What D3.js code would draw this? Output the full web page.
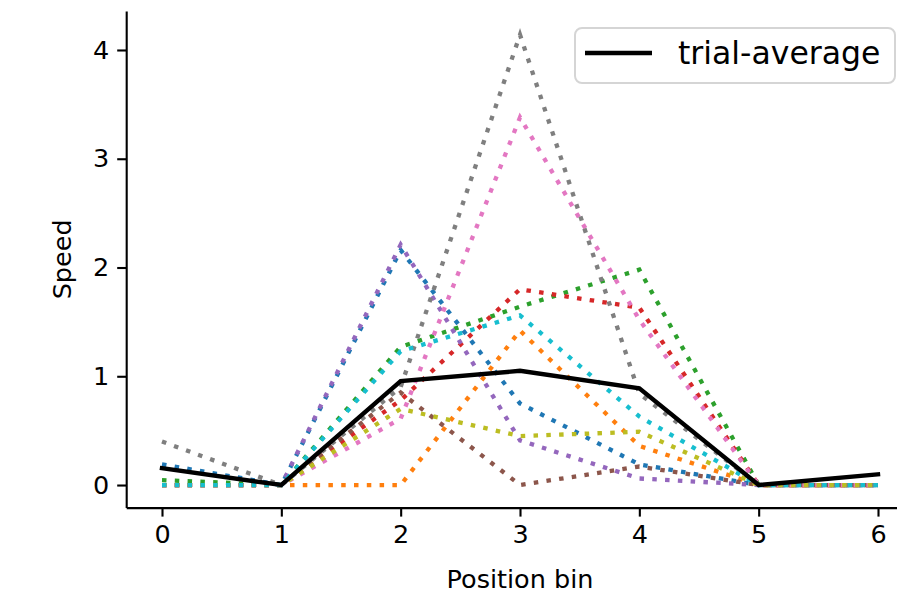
<!DOCTYPE html>
<html>
<head>
<meta charset="utf-8">
<script src="https://cdn.jsdelivr.net/npm/d3@7/dist/d3.min.js"></script>
<style>
  html, body { margin: 0; padding: 0; background: #fff; }
  svg { display: block; }
  text { font-family: "DejaVu Sans", sans-serif; fill: #000; }
</style>
</head>
<body>
<svg id="chart" width="897" height="598"></svg>
<script>
// ---- data ----
const positionBins = [0, 1, 2, 3, 4, 5, 6];
const xTicks = [0, 1, 2, 3, 4, 5, 6];
const yTicks = [0, 1, 2, 3, 4];
const trialColors = ["#1f77b4", "#ff7f0e", "#2ca02c", "#d62728", "#9467bd",
                     "#8c564b", "#e377c2", "#7f7f7f", "#bcbd22", "#17becf"];
const trial0 = [0.19, 0, 2.16, 0.75, 0.19, 0, 0];
const trial1 = [0, 0, 0, 1.42, 0.36, 0, 0];
const trial2 = [0.045, 0, 1.27, 1.64, 1.98, 0, 0];
const trial3 = [0, 0, 0.78, 1.80, 1.63, 0, 0];
const trial4 = [0, 0, 2.21, 0.41, 0.06, 0, 0];
const trial5 = [0, 0, 0.85, 0, 0.17, 0, 0];
const trial6 = [0, 0, 0.61, 3.38, 1.52, 0, 0];
const trial7 = [0.40, 0, 0.90, 4.14, 0.84, 0, 0];
const trial8 = [0, 0, 0.70, 0.45, 0.49, 0, 0];
const trial9 = [0, 0, 1.23, 1.56, 0.63, 0, 0];
const trials = [trial0, trial1, trial2, trial3, trial4, trial5, trial6, trial7, trial8, trial9];
const trialAverage = [0.155, 0, 0.955, 1.05, 0.89, 0, 0.098];
const legendLabel = "trial-average";
const xLabel = "Position bin";
const yLabel = "Speed";

// ---- layout ----
const svg = d3.select("#chart");
const x = d3.scaleLinear().domain([-0.3, 6.3]).range([126.2, 913.8]);
const y = d3.scaleLinear().domain([-0.2075, 4.3575]).range([507.6, 11.1]);

const line = d3.line().x((d, i) => x(positionBins[i])).y(d => y(d));

const plot = svg.append("g");

trials.forEach((t, k) => {
  plot.append("path")
    .datum(t)
    .attr("d", line)
    .attr("fill", "none")
    .attr("stroke", trialColors[k])
    .attr("stroke-width", 4.3)
    .attr("stroke-dasharray", "4.5,8.3");
});

plot.append("path")
  .datum(trialAverage)
  .attr("d", line)
  .attr("fill", "none")
  .attr("stroke", "#000")
  .attr("stroke-width", 4.4)
  .attr("stroke-linejoin", "miter")
  .attr("stroke-linecap", "square");

// ---- axes ----
const xAxis = d3.axisBottom(x).tickValues(xTicks).tickFormat(d3.format("d"))
  .tickSize(9).tickPadding(8).tickSizeOuter(0);
const yAxis = d3.axisLeft(y).tickValues(yTicks).tickFormat(d3.format("d"))
  .tickSize(9).tickPadding(8).tickSizeOuter(0);

const gx = svg.append("g").attr("transform", `translate(0,${y.range()[0]})`).call(xAxis);
const gy = svg.append("g").attr("transform", `translate(${x.range()[0]},0)`).call(yAxis);

[gx, gy].forEach(g => {
  g.select(".domain").attr("stroke", "#000").attr("stroke-width", 2.1);
  g.selectAll(".tick line").attr("stroke", "#000").attr("stroke-width", 2.1);
  g.selectAll(".tick text").style("font-family", "DejaVu Sans").attr("font-size", 25.5).attr("fill", "#000");
});

svg.append("text")
  .attr("x", (x.range()[0] + x.range()[1]) / 2)
  .attr("y", 588)
  .attr("text-anchor", "middle")
  .attr("font-size", 25.5)
  .text(xLabel);

svg.append("text")
  .attr("transform", `translate(71,${(y.range()[0] + y.range()[1]) / 2}) rotate(-90)`)
  .attr("text-anchor", "middle")
  .attr("font-size", 25.5)
  .text(yLabel);

// ---- legend ----
const lg = svg.append("g");
lg.append("rect")
  .attr("x", 575).attr("y", 28).attr("width", 320).attr("height", 55)
  .attr("rx", 7).attr("ry", 7)
  .attr("fill", "rgba(255,255,255,0.8)")
  .attr("stroke", "#d5d5d5").attr("stroke-width", 2);
lg.append("line")
  .attr("x1", 585).attr("x2", 652).attr("y1", 53).attr("y2", 53)
  .attr("stroke", "#000").attr("stroke-width", 4.4);
lg.append("text")
  .attr("x", 678).attr("y", 64)
  .attr("font-size", 31.5)
  .text(legendLabel);
</script>
</body>
</html>
